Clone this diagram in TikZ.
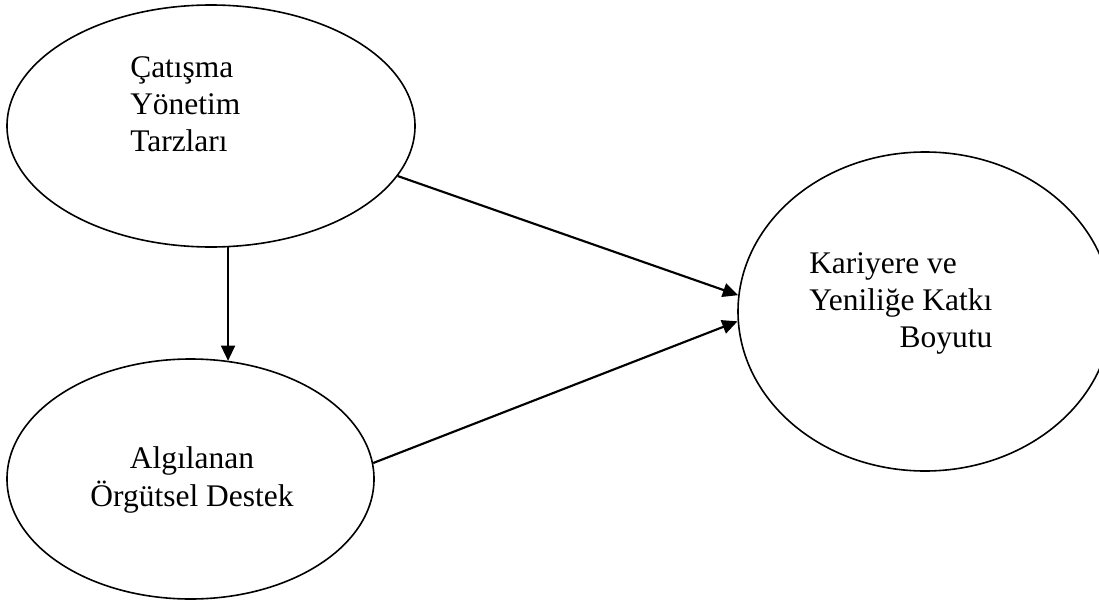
\documentclass[tikz,border=0pt]{standalone}
\usepackage{fontspec}
\setmainfont{Liberation Serif}
\usetikzlibrary{shapes.geometric,arrows.meta}
\begin{document}
\begin{tikzpicture}[x=0.75pt,y=-0.75pt,
  oval/.style={draw=black,line width=1.2pt,ellipse,inner sep=0pt},
  arr/.style={draw=black,line width=1.6pt,-{Triangle[length=11.5pt,width=10.5pt]}},
  txt/.style={inner sep=0pt,font=\fontsize{23.6pt}{27.75pt}\selectfont}]
\useasboundingbox (0,0) rectangle (1099,603);
\node[oval,minimum width=306pt,minimum height=181.5pt] (a) at (211,126) {};
\node[oval,minimum width=275.25pt,minimum height=180pt] (b) at (190.5,479) {};
\node[oval,minimum width=280.5pt,minimum height=239.25pt] (c) at (925,311.5) {};
\node[txt,anchor=base west] (ta) at (130,77) {\begin{tabular}[t]{@{}l@{}}Çatışma\\Yönetim\\Tarzları\end{tabular}};
\node[txt,anchor=base] (tb) at (192,468) {\begin{tabular}[t]{@{}c@{}}Algılanan\\[1pt]Örgütsel Destek\end{tabular}};
\node[txt,anchor=base west] (tc) at (809,273) {\begin{tabular}[t]{@{}l@{}}Kariyere ve\\Yeniliğe Katkı\\\hfill Boyutu\end{tabular}};
\draw[arr] (a.-82) -- (a.-82 |- b.72.3);
\draw[arr] (a.-15.2) -- (c.175.6);
\draw[arr] (b.5.3) -- (c.183.2);
\end{tikzpicture}
\end{document}
